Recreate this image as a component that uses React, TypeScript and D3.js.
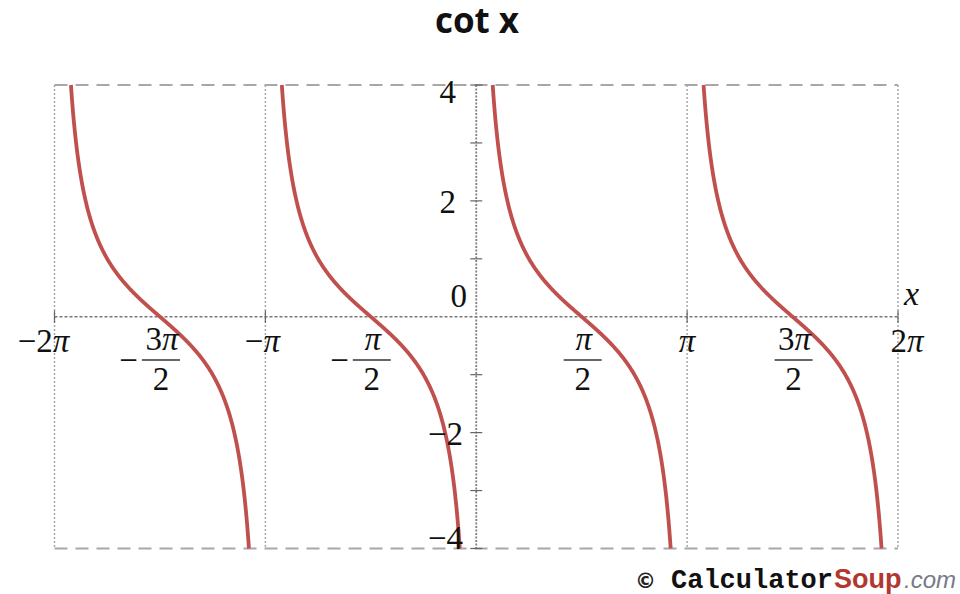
import React from "react";
import * as d3 from "d3";

const W = 960;
const H = 594;

// Continuous branches of cot x between its asymptotes (in units of π)
const branches: [number, number][] = [
  [-2, -1],
  [-1, 0],
  [0, 1],
  [1, 2],
];

// x tick positions (units of π) and their labels
const xTicks = [-2, -1.5, -1, -0.5, 0.5, 1, 1.5, 2];
const xLabels = ["−2π", "−3π/2", "−π", "−π/2", "π/2", "π", "3π/2", "2π"];
const xGrid = [-2, -1, 1, 2];

const yTicks = [-4, -3, -2, -1, 1, 2, 3, 4];
const yLabels = [-4, -2, 2, 4];

const SERIF = "'Liberation Serif', 'DejaVu Serif', serif";

export default function App() {
  const x = d3.scaleLinear().domain([-2 * Math.PI, 2 * Math.PI]).range([54.5, 898]);
  const y = d3.scaleLinear().domain([-4, 4]).range([548.5, 85]);

  const line = d3
    .line<[number, number]>()
    .x((d) => x(d[0]))
    .y((d) => y(d[1]));

  const paths = branches.map(([a, b]) => {
    const lo = a * Math.PI + Math.atan2(1, 4); // cot = 4
    const hi = b * Math.PI - Math.atan2(1, 4); // cot = -4
    const pts: [number, number][] = d3.range(0, 401).map((i) => {
      const t = lo + ((hi - lo) * i) / 400;
      return [t, 1 / Math.tan(t)];
    });
    return line(pts) || "";
  });

  const x0 = x(0);
  const y0 = y(0);

  const renderXLabel = (v: number, lab: string, i: number) => {
    const cx = x(v * Math.PI);
    if (lab.includes("/")) {
      const neg = lab.startsWith("−");
      const [num, den] = lab.replace("−", "").split("/");
      return (
        <g key={i} fontFamily={SERIF} fontSize={33} fill="#111">
          <text x={cx + 2} y={350} textAnchor="middle">
            {num.replace("π", "")}
            <tspan fontStyle="italic">π</tspan>
          </text>
          <line x1={cx - 18} x2={cx + 20} y1={360} y2={360} stroke="#333" strokeWidth={1.3} />
          <text x={cx + 1} y={390} textAnchor="middle">
            {den}
          </text>
          {neg && (
            <text x={cx - 22} y={371} textAnchor="end">
              −
            </text>
          )}
        </g>
      );
    }
    const plain = lab.replace("π", "");
    let dx = 0;
    if (v === -2) dx = -11;
    if (v === -1) dx = -3;
    if (v === 2) dx = 9;
    return (
      <text key={i} x={cx + dx} y={352} textAnchor="middle" fontFamily={SERIF} fontSize={33} fill="#111">
        {plain}
        <tspan fontStyle="italic">π</tspan>
      </text>
    );
  };

  return (
    <svg width={W} height={H} style={{ display: "block", position: "absolute", left: 0, top: 0 }}>
      <rect width={W} height={H} fill="#fff" />

      {/* title */}
      <text
        x={477}
        y={33}
        textAnchor="middle"
        fontFamily="'Open Sans', 'DejaVu Sans', sans-serif"
        fontWeight={700}
        fontSize={35}
        fill="#111"
      >
        cot x
      </text>

      {/* vertical grid lines at multiples of π */}
      {xGrid.map((v) => (
        <line
          key={v}
          x1={x(v * Math.PI)}
          x2={x(v * Math.PI)}
          y1={y(4)}
          y2={y(-4)}
          stroke="#a8a8a8"
          strokeWidth={1.5}
          strokeDasharray="2,2"
        />
      ))}

      {/* dashed boundary lines at y = ±4 */}
      {[4, -4].map((v) => (
        <line
          key={v}
          x1={x(-2 * Math.PI)}
          x2={x(2 * Math.PI)}
          y1={y(v)}
          y2={y(v)}
          stroke="#a8a8a8"
          strokeWidth={2}
          strokeDasharray="13,8"
        />
      ))}

      {/* x axis */}
      <line x1={x(-2 * Math.PI)} x2={x(2 * Math.PI)} y1={y0} y2={y0} stroke="#777" strokeWidth={1.6} strokeDasharray="3,2" />
      {/* y axis */}
      <line x1={x0} x2={x0} y1={y(4)} y2={y(-4)} stroke="#808080" strokeWidth={1.8} strokeDasharray="2,1.5" />

      {/* x ticks */}
      {xGrid.map((v) => (
        <line key={v} x1={x(v * Math.PI)} x2={x(v * Math.PI)} y1={y0 - 6} y2={y0 + 6} stroke="#666" strokeWidth={1.2} />
      ))}
      {/* y ticks */}
      {yTicks.map((v) => (
        <line key={v} x1={x0 - 6} x2={x0 + 6} y1={y(v)} y2={y(v)} stroke="#666" strokeWidth={1.2} />
      ))}

      {/* curve */}
      {paths.map((d, i) => (
        <path key={i} d={d} fill="none" stroke="#c0504d" strokeWidth={3.8} strokeLinecap="butt" />
      ))}

      {/* x tick labels */}
      {xTicks.map((v, i) => renderXLabel(v, xLabels[i], i))}

      {/* y tick labels */}
      {yLabels.map((v) => {
        const yy = v === 4 ? 103 : v === -4 ? 549 : y(v) + 12;
        const right = v < 0 ? 463 : 456;
        return (
          <text key={v} x={right} y={yy} textAnchor="end" fontFamily={SERIF} fontSize={33} fill="#111">
            {v < 0 ? `−${-v}` : v}
          </text>
        );
      })}
      <text x={467} y={307} textAnchor="end" fontFamily={SERIF} fontSize={33} fill="#111">
        0
      </text>

      {/* axis label */}
      <text x={904} y={305} fontFamily={SERIF} fontStyle="italic" fontSize={34} fill="#111">
        x
      </text>

      {/* credit */}
      <g>
        <text x={635} y={588} fontFamily="'DejaVu Sans', sans-serif" fontSize={21} fontWeight={700} fill="#222">
          ©
        </text>
        <text x={671} y={588} fontFamily="'Liberation Mono', 'DejaVu Sans Mono', monospace" fontWeight={700} fontSize={27} fill="#111">
          Calculator
        </text>
        <text x={834} y={588} fontFamily="'Liberation Sans', Arial, sans-serif" fontWeight={700} fontSize={27} fill="#b2382f">
          Soup
        </text>
        <text x={904} y={588} fontFamily="'Liberation Sans', Arial, sans-serif" fontStyle="italic" fontSize={24} fill="#777b88">
          .com
        </text>
      </g>
    </svg>
  );
}
